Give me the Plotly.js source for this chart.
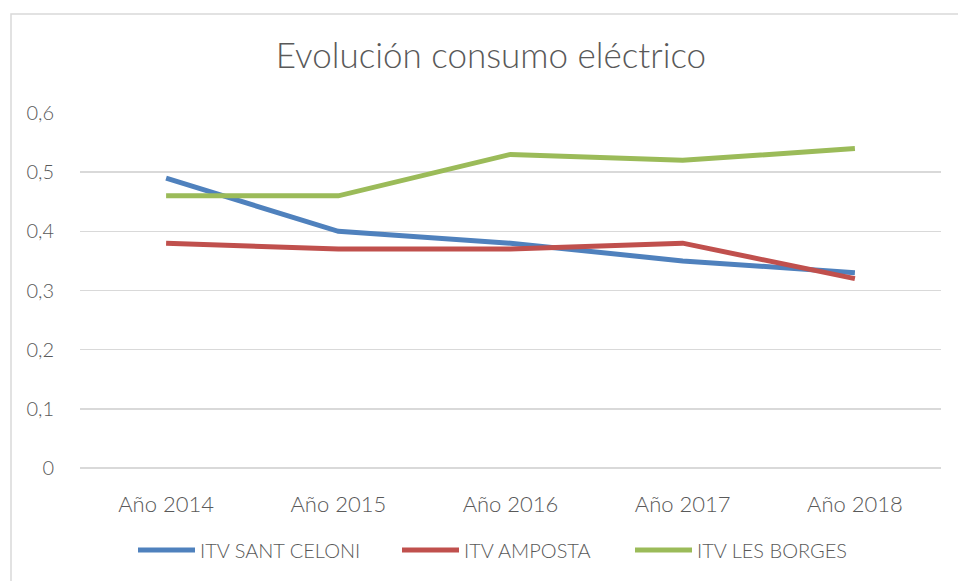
<!DOCTYPE html>
<html>
<head>
<meta charset="utf-8">
<script src="https://cdn.plot.ly/plotly-3.0.1.min.js"></script>
<style>
html,body{margin:0;padding:0;background:#fff;}
#chart{width:958px;height:581px;}
</style>
</head>
<body>
<div id="chart"></div>
<script>
const categories = ["Año 2014", "Año 2015", "Año 2016", "Año 2017", "Año 2018"];
const santCeloni = [0.49, 0.40, 0.38, 0.35, 0.33];
const amposta = [0.38, 0.37, 0.37, 0.38, 0.32];
const lesBorges = [0.46, 0.46, 0.53, 0.52, 0.54];
const yTicks = [0, 0.1, 0.2, 0.3, 0.4, 0.5, 0.6];

const FONT = '"Liberation Sans Narrow", "Lato", sans-serif';
const W = 300;

function tr(name, y, color, leg) {
  return {
    type: 'scatter', mode: 'lines', name: name, x: categories, y: y,
    line: {color: color, width: 5}, hoverinfo: 'skip', legend: leg
  };
}

const data = [
  tr('ITV SANT CELONI', santCeloni, '#4f81bd', 'legend'),
  tr('ITV AMPOSTA', amposta, '#c0504d', 'legend2'),
  tr('ITV LES BORGES', lesBorges, '#9bbb59', 'legend3')
];

function leg(px) {
  return {
    orientation: 'h',
    x: (px - 80) / 861, xanchor: 'left',
    y: (468 - 550) / 355, yanchor: 'middle',
    font: {family: FONT, size: 20, color: '#595959', weight: W},
    itemwidth: 57, bgcolor: 'rgba(0,0,0,0)'
  };
}

const layout = {
  width: 958, height: 581,
  margin: {l: 80, r: 17, t: 113, b: 113, pad: 0},
  paper_bgcolor: '#ffffff', plot_bgcolor: '#ffffff',
  separators: ', ',
  font: {family: FONT, color: '#595959', size: 16, weight: W},
  title: {
    text: 'Evolución consumo eléctrico',
    font: {family: FONT, size: 35, color: '#595959', weight: W},
    x: 491 / 958, xref: 'container', xanchor: 'center',
    y: 1 - 56/581, yref: 'container', yanchor: 'middle'
  },
  xaxis: {
    type: 'category', range: [-0.5, 4.5],
    showgrid: false, zeroline: false, showline: false,
    ticks: 'outside', ticklen: 17, tickcolor: 'rgba(0,0,0,0)',
    tickfont: {family: FONT, size: 22, color: '#595959', weight: W},
    fixedrange: true
  },
  yaxis: {
    range: [0, 0.6], tickvals: yTicks,
    showgrid: true, gridcolor: '#d9d9d9', gridwidth: 1.5,
    zeroline: true, zerolinecolor: '#d9d9d9', zerolinewidth: 1.5,
    showline: false,
    ticks: 'outside', ticklen: 21, tickcolor: 'rgba(0,0,0,0)',
    tickfont: {family: FONT, size: 20, color: '#595959', weight: W},
    fixedrange: true
  },
  showlegend: true,
  legend: leg(133),
  legend2: leg(397),
  legend3: leg(630),
  shapes: [{
    type: 'rect', xref: 'paper', yref: 'paper',
    x0: (11 - 80) / 861, x1: 1.2,
    y0: -1, y1: (468 - 14) / 355,
    line: {color: '#d9d9d9', width: 1.5}, fillcolor: 'rgba(0,0,0,0)', layer: 'below'
  }]
};

Plotly.newPlot('chart', data, layout, {displayModeBar: false, staticPlot: true});
</script>
</body>
</html>
